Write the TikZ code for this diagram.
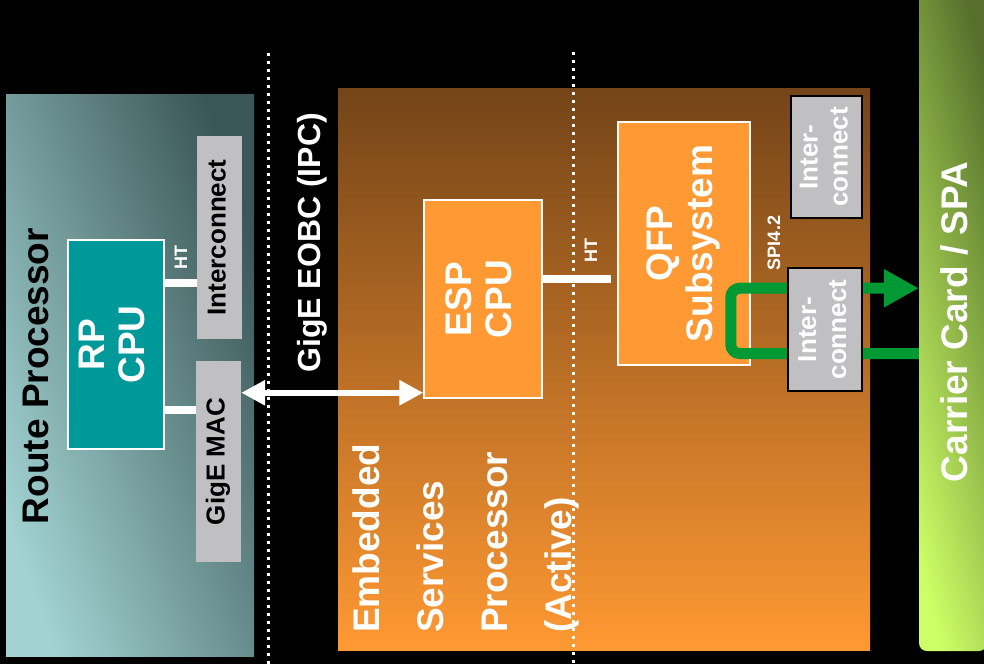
\documentclass[tikz,border=0pt]{standalone}
\usepackage{fontspec}
\setmainfont{Liberation Sans}
\usepackage{graphicx}
\usetikzlibrary{arrows.meta,positioning,calc}

\definecolor{rpdark}{HTML}{3B5656}
\definecolor{rplight}{HTML}{A2D2D2}
\definecolor{espdark}{HTML}{744418}
\definecolor{esporange}{HTML}{FF9933}
\definecolor{cputeal}{HTML}{009999}
\definecolor{icgray}{HTML}{C0C0C2}
\definecolor{spigreen}{HTML}{009933}
\definecolor{carddark}{HTML}{56702C}
\definecolor{cardlight}{HTML}{CCFF66}

\newcommand{\turntext}[1]{\rotatebox{90}{\begin{tabular}{@{}c@{}}#1\end{tabular}}}

\begin{document}
\begin{tikzpicture}[
  x=1pt,
  y=-1pt,
  font=\bfseries,
  bigfont/.style={font=\bfseries\fontsize{37}{40}\selectfont},
  midfont/.style={font=\bfseries\fontsize{26}{30}\selectfont},
  smallfont/.style={font=\bfseries\fontsize{18}{20}\selectfont},
  panel/.style={inner sep=0pt},
  cpu/.style={draw=white, line width=1.5pt, text=white, inner sep=0pt, bigfont},
  gray/.style={fill=icgray, inner sep=0pt, midfont},
  ic/.style={gray, draw=black, line width=2.5pt, text=white},
  vlabel/.style={rotate=90, inner sep=0pt, text=white},
  bus/.style={draw=white, line width=8pt},
  eobc/.style={{Triangle[length=24pt,width=24pt]}-{Triangle[length=24pt,width=24pt]},
    draw=white, line width=6pt},
  sep/.style={draw=white, line width=3pt, dash pattern=on 3pt off 5pt},
  spi/.style={-{Triangle[length=35pt,width=36pt]}, draw=spigreen, line width=11pt,
    rounded corners=9pt}
]
\useasboundingbox (0,0) rectangle (984,664);
\fill[black] (0,0) rectangle (984,664);

\node[panel, minimum width=248, minimum height=562, bottom color=rplight,
  top color=rpdark, shading angle=-70] (rp) at (130,375) {};
\node[panel, minimum width=532, minimum height=562, top color=espdark,
  bottom color=esporange] (esp) at (604,369) {};
\node[panel, rounded corners=8pt, minimum width=68, minimum height=660,
  bottom color=cardlight, top color=carddark, shading angle=-75] (card) at (953,321) {};

\node[vlabel, bigfont, text=black] (rptitle) at (36,376) {Route Processor};
\node[vlabel, font=\bfseries\fontsize{32}{34}\selectfont] (eobctitle) at (312,243)
  {GigE EOBC (IPC)};
\node[vlabel, anchor=north west, align=left, font=\bfseries\fontsize{37}{64}\selectfont]
  (esptitle) at (352,633) {Embedded\\Services\\Processor\\(Active)};
\node[vlabel, bigfont] (cardtitle) at (954,322) {Carrier Card / SPA};

\node[cpu, fill=cputeal, minimum width=96, minimum height=209] (rpcpu) at (116,344.5)
  {\turntext{RP\\CPU}};
\node[gray, minimum width=45, minimum height=203] (ic1) at (219.5,237.5)
  {\turntext{Interconnect}};
\node[gray, minimum width=45, minimum height=201] (gigemac) at (218.5,461.5)
  {\turntext{GigE MAC}};
\node[cpu, fill=esporange, minimum width=118, minimum height=198] (espcpu) at (483,299)
  {\turntext{ESP\\CPU}};
\node[cpu, fill=esporange, minimum width=132, minimum height=243] (qfp) at (684,243.5)
  {\turntext{QFP\\Subsystem}};
\node[ic, minimum width=71, minimum height=122] (ic2) at (826.5,157)
  {\turntext{Inter-\\connect}};

\draw[bus] ($(rpcpu.north east)!.21!(rpcpu.south east)$) coordinate (ht1)
  -- (ht1 -| ic1.west);
\draw[bus] ($(rpcpu.north east)!.81!(rpcpu.south east)$) coordinate (mac1)
  -- (mac1 -| gigemac.west);
\draw[bus] ($(espcpu.north east)!.4!(espcpu.south east)$) coordinate (ht2)
  -- ([xshift=-6pt]ht2 -| qfp.west);
\draw[eobc] ($(espcpu.north west)!.97!(espcpu.south west)$) coordinate (eobc)
  (eobc -| gigemac.east) -- (eobc);

\draw[sep] (268,53) -- (268,664);
\draw[sep] (573,52) -- (573,664);

\coordinate (spihi) at ($(qfp.north east)!.683!(qfp.south east)$);
\coordinate (spilo) at ($(qfp.north east)!.95!(qfp.south east)$);
\draw[spi] (card.west |- spilo) -| ([xshift=-20pt]spihi) -- (card.west |- spihi);

\node[ic, minimum width=74, minimum height=123] (ic3) at (825,329.5)
  {\turntext{Inter-\\connect}};

\node[vlabel, smallfont] (htrp) at (181,257) {HT};
\node[vlabel, smallfont] (htesp) at (591,250) {HT};
\node[vlabel, smallfont] (spilabel) at (774,243) {SPI4.2};

\end{tikzpicture}
\end{document}
